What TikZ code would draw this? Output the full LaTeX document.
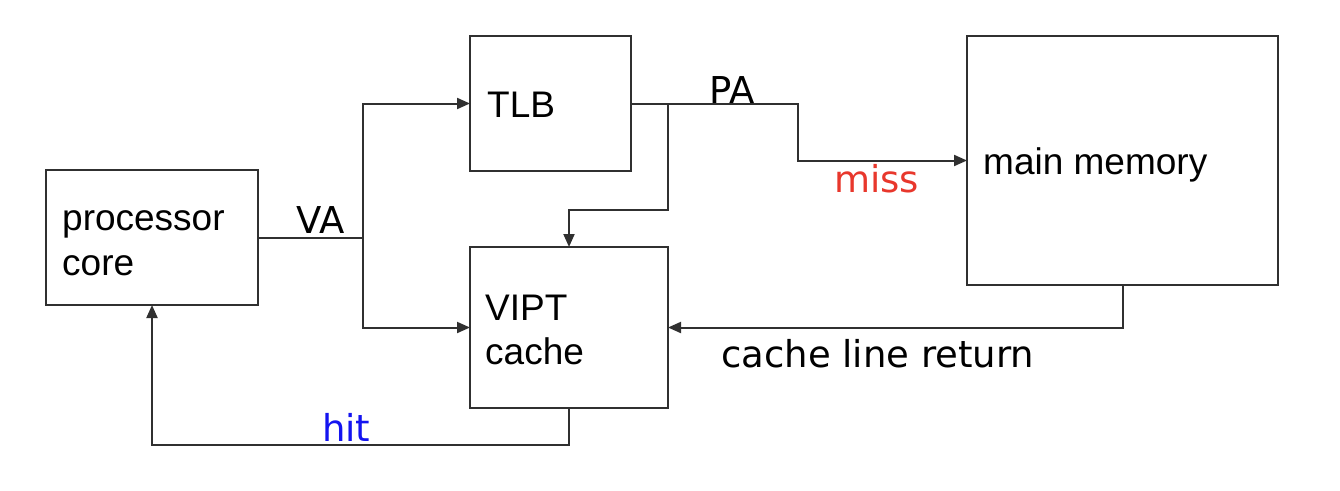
\documentclass[tikz,border=0pt]{standalone}
\usepackage{fontspec}
\setmainfont{Liberation Sans}
\newfontfamily\lblfont{DejaVu Sans}
\usetikzlibrary{arrows.meta}
\definecolor{lc}{HTML}{303030}
\definecolor{missred}{HTML}{E8372C}
\definecolor{hitblue}{HTML}{1414F0}
\begin{document}
\begin{tikzpicture}[x=1pt,y=-1pt,
  box/.style={draw=lc, line width=2pt, inner sep=0pt, outer sep=0pt, anchor=north west},
  wire/.style={draw=lc, line width=2pt},
  arr/.style={wire, -{Triangle[length=13pt,width=11pt]}},
  boxtext/.style={anchor=base west, inner sep=0pt, font=\fontsize{37}{44}\selectfont},
  lbl/.style={anchor=base west, inner sep=0pt, font=\lblfont\fontsize{37}{44}\selectfont}]
\useasboundingbox (0,0) rectangle (1340,490);
% boxes
\node[box, minimum width=212pt, minimum height=135pt] (proc) at (46,170) {};
\node[box, minimum width=161pt, minimum height=135pt] (tlb) at (470,36) {};
\node[box, minimum width=198pt, minimum height=161pt] (vipt) at (470,247) {};
\node[box, minimum width=311pt, minimum height=249pt] (mem) at (967,36) {};
% box texts
\node[boxtext] (proct1) at (62,230) {processor};
\node[boxtext] (proct2) at (62,275) {core};
\node[boxtext] (tlbt) at (487,117) {TLB};
\node[boxtext] (viptt1) at (485,320) {VIPT};
\node[boxtext] (viptt2) at (485,364) {cache};
\node[boxtext] (memt) at (983,174) {main memory};
% connectors
\coordinate (split) at (proc.east -| 363,0);
\draw[wire] (proc.east) -- (split);
\draw[arr] (split) |- (tlb.west);
\draw[arr] (split) |- (vipt.west);
\coordinate (pb) at (798,132);
\draw[arr] (tlb.east) -| (pb) |- (mem.west);
\coordinate (pa2) at (tlb.east -| 668,0);
\coordinate (cb) at (668,210);
\draw[arr] (pa2) -- (cb) -| (vipt.north);
\draw[arr] (mem.south) |- (vipt.east);
\coordinate (hb) at (vipt.south |- 0,445);
\draw[arr] (vipt.south) -- (hb) -| (proc.south);
% labels
\node[lbl] (va) at (296,233) {VA};
\node[lbl] (pa) at (709,103) {PA};
\node[lbl, text=missred] (miss) at (834,192) {miss};
\node[lbl, text=hitblue] (hit) at (322,441) {hit};
\node[lbl] (clr) at (721,367) {cache line return};
\end{tikzpicture}
\end{document}
